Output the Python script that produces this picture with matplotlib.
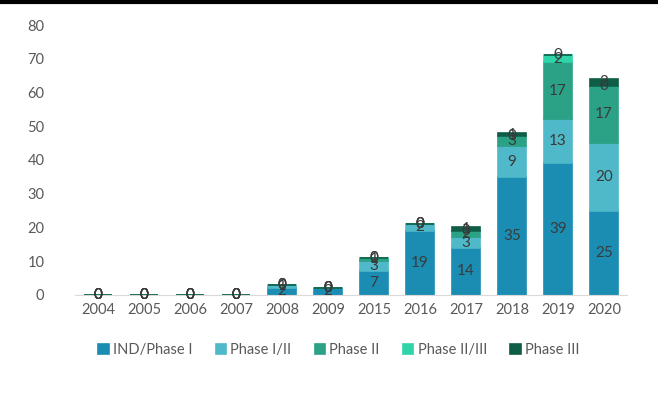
import matplotlib.pyplot as plt
import numpy as np

years = ["2004", "2005", "2006", "2007", "2008", "2009",
         "2015", "2016", "2017", "2018", "2019", "2020"]
phases = ["IND/Phase I", "Phase I/II", "Phase II", "Phase II/III", "Phase III"]

ind_phase1 = [0, 0, 0, 0, 2, 2, 7, 19, 14, 35, 39, 25]
phase1_2 = [0, 0, 0, 0, 1, 0, 3, 2, 3, 9, 13, 20]
phase2 = [0, 0, 0, 0, 0, 0, 1, 0, 2, 3, 17, 17]
phase2_3 = [0, 0, 0, 0, 0, 0, 0, 0, 0, 0, 2, 0]
phase3 = [0, 0, 0, 0, 0, 0, 0, 0, 1, 1, 0, 2]

colors = ["#1b8db3", "#4fb8c9", "#2ba185", "#2fd4a9", "#0f5c47"]

plt.rcParams['font.family'] = ['Lato', 'DejaVu Sans']

fig = plt.figure(figsize=(6.58, 4.17), dpi=100)
ax = fig.add_axes([0.114, 0.293, 0.839, 0.647])

x = np.arange(len(years))
bottom = np.zeros(len(years))
for name, vals, c in zip(phases, [ind_phase1, phase1_2, phase2, phase2_3, phase3], colors):
    vals = np.array(vals, dtype=float)
    bars = ax.bar(x, vals, 0.6, bottom=bottom, color=c, edgecolor=c,
                  linewidth=1.2, label=name)
    ax.bar_label(bars, labels=[str(int(v)) for v in vals], label_type='center',
                 color="#3a3a3a", fontsize=11)
    bottom += vals

ax.set_xlim(-0.5, 11.5)
ax.set_ylim(0, 80)
ax.set_yticks(range(0, 81, 10))
ax.set_xticks(x)
ax.set_xticklabels(years)
ax.tick_params(axis='both', length=0, colors="#595959", labelsize=10.5)
ax.tick_params(axis='y', pad=22)
ax.tick_params(axis='x', pad=6)
for s in ["top", "right", "left"]:
    ax.spines[s].set_visible(False)
ax.spines["bottom"].set_color("#d9d9d9")

leg = fig.legend(loc="center", bbox_to_anchor=(0.515, 0.16), ncol=5, frameon=False,
                 fontsize=10.5, handlelength=0.7, handleheight=0.7,
                 handletextpad=0.3, columnspacing=1.6)
for t in leg.get_texts():
    t.set_color("#595959")

# thin black rule along the top edge
fig.add_artist(plt.Line2D([0, 1], [0.996, 0.996], color="black", linewidth=3,
                          transform=fig.transFigure))

fig.savefig("out.png", dpi=100)
